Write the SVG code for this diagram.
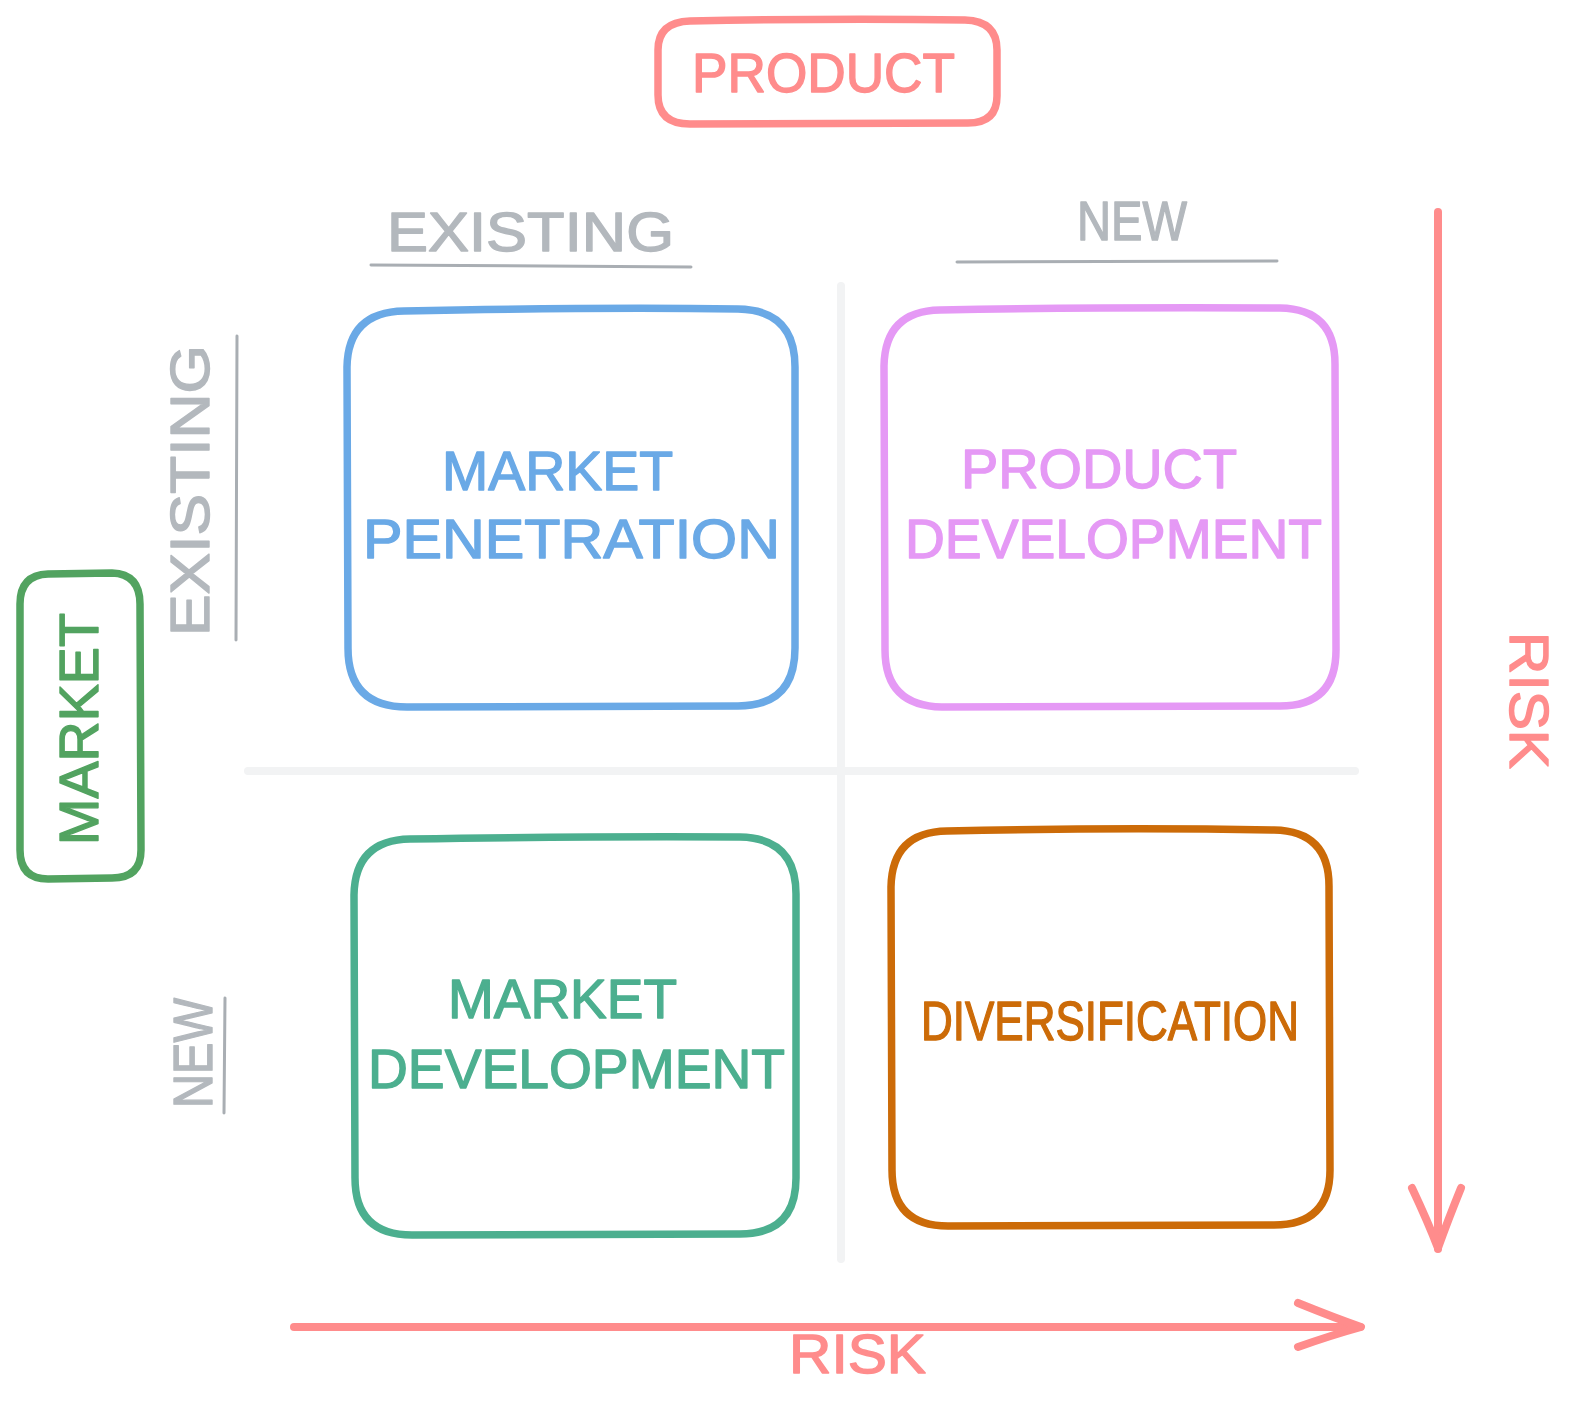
<svg xmlns="http://www.w3.org/2000/svg" width="1582" height="1413" viewBox="0 0 1582 1413">
<defs>
<style>
text{font-family:"Liberation Sans","DejaVu Sans",sans-serif;font-size:56px;stroke-width:1.4px;stroke-linejoin:round;}
.box{fill:none;stroke-width:7.5;stroke-linecap:round;stroke-linejoin:round;}
.grid{stroke:#f2f3f4;stroke-width:8;stroke-linecap:round;fill:none;}
.gl{stroke:#a9aeb3;stroke-width:3;fill:none;stroke-linecap:round;}
.gt{fill:#b3b8bd;stroke:#b3b8bd;}
.arr{stroke:#ff8c8c;stroke-width:8;fill:none;stroke-linecap:round;stroke-linejoin:round;}
.red{fill:#ff8c8c;stroke:#ff8c8c;}
.blue{fill:#6aa9e6;stroke:#6aa9e6;}
.purple{fill:#e599f5;stroke:#e599f5;}
.teal{fill:#4caf8f;stroke:#4caf8f;}
.orange{fill:#cc6b08;stroke:#cc6b08;}
.green{fill:#52a360;stroke:#52a360;}
</style>
</defs>
<rect width="1582" height="1413" fill="#ffffff"/>

<g id="grid">
<path class="grid" d="M841 286 L841 1259"/>
<path class="grid" d="M248 771 L1355 771"/>
</g>

<g id="product-header">
<path class="box" stroke="#ff8c8c" d="M690 21 Q840 18 965 20 Q997 21 997 50 L997 96 Q997 123 968 123 L690 124 Q658 124 658 95 L658 50 Q658 22 690 21 Z"/>
<text class="red" x="692" y="92" textLength="263" lengthAdjust="spacingAndGlyphs">PRODUCT</text>
</g>

<g id="market-header">
<path class="box" stroke="#52a360" d="M48 574 L112 573 Q140 574 140 604 L141 850 Q141 878 112 878 L48 879 Q20 879 20 850 L20 604 Q20 575 48 574 Z"/>
<text class="green" transform="translate(98,845) rotate(-90)" font-size="50" textLength="232" lengthAdjust="spacingAndGlyphs">MARKET</text>
</g>

<g id="label-existing-top">
<text class="gt" x="387" y="251" textLength="287" lengthAdjust="spacingAndGlyphs">EXISTING</text>
<path class="gl" d="M371 265 L691 267"/>
</g>

<g id="label-new-top">
<text class="gt" x="1077" y="240" textLength="110" lengthAdjust="spacingAndGlyphs">NEW</text>
<path class="gl" d="M957 262 L1277 261"/>
</g>

<g id="label-existing-left">
<text class="gt" transform="translate(209,636) rotate(-90)" textLength="291" lengthAdjust="spacingAndGlyphs">EXISTING</text>
<path class="gl" d="M237 336 L236 640"/>
</g>

<g id="label-new-left">
<text class="gt" transform="translate(212,1108) rotate(-90)" textLength="110" lengthAdjust="spacingAndGlyphs">NEW</text>
<path class="gl" d="M225 998 L224 1113"/>
</g>

<g id="market-penetration">
<path class="box" stroke="#6aa9e6" d="M404 311 Q600 307 738 309 Q795 310 795 367 L795 648 Q795 706 738 706 L407 707 Q348 707 348 648 L347 367 Q348 312 404 311 Z"/>
<text class="blue" x="442" y="490" textLength="231" lengthAdjust="spacingAndGlyphs">MARKET</text>
<text class="blue" x="363" y="558" textLength="417" lengthAdjust="spacingAndGlyphs">PENETRATION</text>
</g>

<g id="product-development">
<path class="box" stroke="#e599f5" d="M940 310 Q1100 307 1280 308 Q1335 309 1335 364 L1336 650 Q1336 706 1280 706 L942 707 Q885 706 885 650 L884 366 Q885 311 940 310 Z"/>
<text class="purple" x="961" y="488" textLength="276" lengthAdjust="spacingAndGlyphs">PRODUCT</text>
<text class="purple" x="905" y="558" textLength="417" lengthAdjust="spacingAndGlyphs">DEVELOPMENT</text>
</g>

<g id="market-development">
<path class="box" stroke="#4caf8f" d="M410 839 Q600 836 740 837 Q796 838 796 894 L796 1178 Q796 1234 740 1234 L412 1235 Q355 1235 355 1178 L354 895 Q355 840 410 839 Z"/>
<text class="teal" x="448" y="1018" font-size="54" textLength="229" lengthAdjust="spacingAndGlyphs">MARKET</text>
<text class="teal" x="368" y="1088" textLength="417" lengthAdjust="spacingAndGlyphs">DEVELOPMENT</text>
</g>

<g id="diversification">
<path class="box" stroke="#cc6b08" d="M947 831 Q1120 827 1274 830 Q1329 831 1329 886 L1330 1170 Q1330 1225 1274 1225 L948 1226 Q892 1226 892 1170 L891 887 Q892 832 947 831 Z"/>
<text class="orange" x="921" y="1040" font-size="42" textLength="378" lengthAdjust="spacingAndGlyphs">DIVERSIFICATION</text>
</g>

<g id="connectors">
<path class="arr" d="M1438 212 L1438 1249"/>
<path class="arr" d="M1412 1188 Q1428 1222 1438 1248 Q1448 1220 1461 1188"/>
<path class="arr" d="M294 1327 L1360 1327"/>
<path class="arr" d="M1298 1303 Q1335 1318 1361 1327 Q1332 1335 1298 1347"/>
</g>

<g id="risk-labels">
<text class="red" transform="translate(1510,632) rotate(90)" textLength="137" lengthAdjust="spacingAndGlyphs">RISK</text>
<text class="red" x="789" y="1373" textLength="137" lengthAdjust="spacingAndGlyphs">RISK</text>
</g>
</svg>
